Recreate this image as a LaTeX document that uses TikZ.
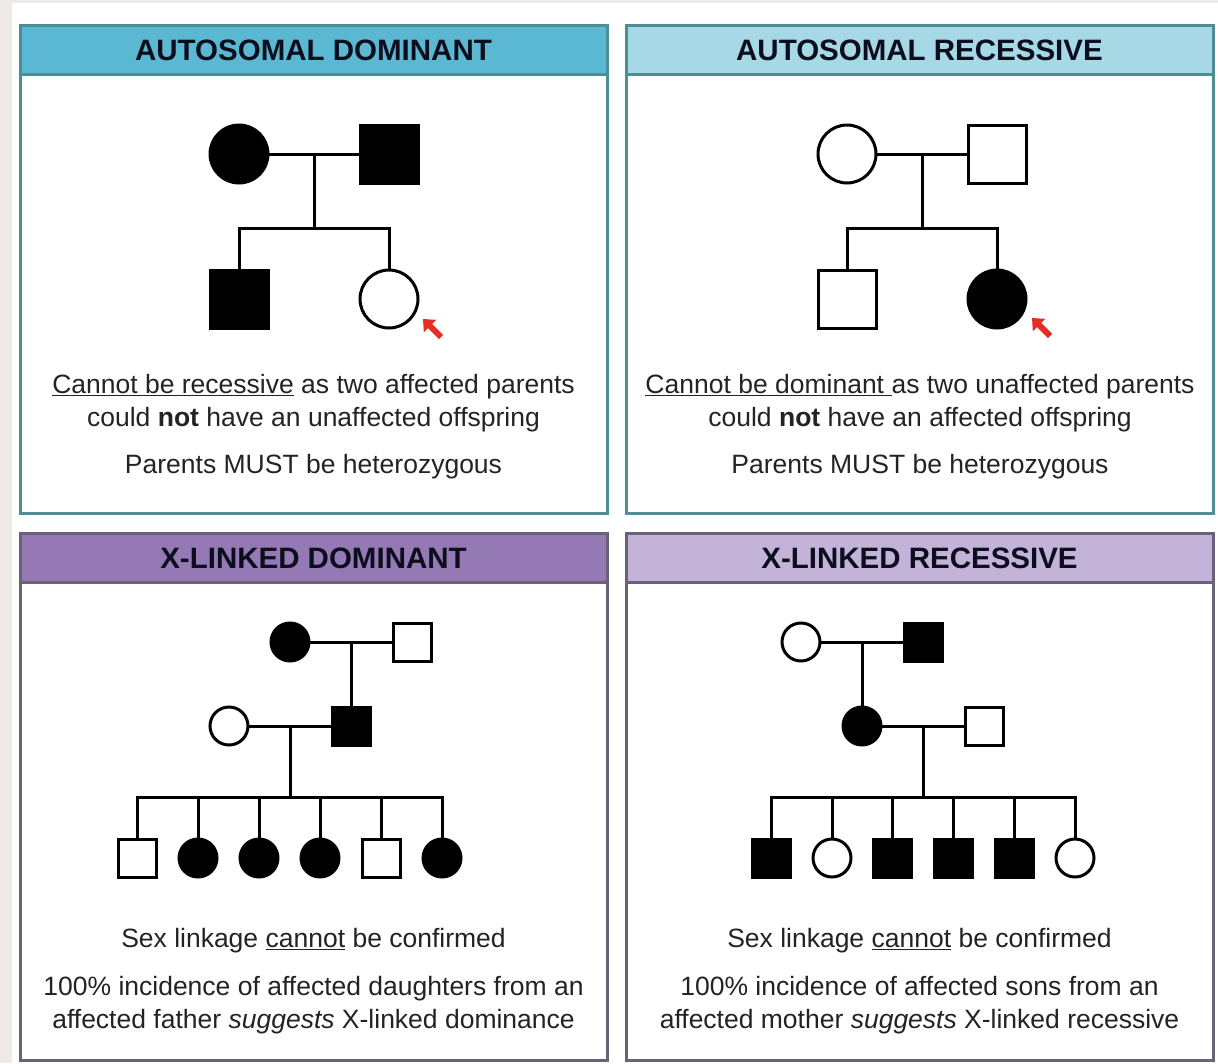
\documentclass[tikz,border=0pt]{standalone}
\usepackage{fontspec}
\setmainfont{Liberation Sans}
\usepackage{tikz}
\usetikzlibrary{positioning}
\usetikzlibrary{arrows.meta}
\usetikzlibrary{calc}
\definecolor{bgbeige}{RGB}{238,235,230}
\definecolor{adhead}{RGB}{90,184,210}
\definecolor{arhead}{RGB}{166,216,230}
\definecolor{xdhead}{RGB}{148,121,181}
\definecolor{xrhead}{RGB}{195,179,217}
\definecolor{autoframe}{RGB}{78,140,150}
\definecolor{xframe}{RGB}{105,98,120}
\definecolor{textgray}{RGB}{35,35,35}
\definecolor{titleink}{RGB}{12,14,30}
\definecolor{pointer}{RGB}{230,45,35}
\tikzstyle{person}=[draw=black,line width=3pt,inner sep=0pt]
\tikzstyle{famline}=[draw,line width=3pt,line cap=rect]
\tikzstyle{header}=[font=\fontsize{29.5}{32}\selectfont\bfseries,text=titleink]
\tikzstyle{note}=[font=\fontsize{26.5}{32.5}\selectfont,text=textgray,align=center]
\tikzstyle{proband}=[draw=pointer,line width=6pt,-{Triangle[length=10pt,width=17pt]}]

\begin{document}
\begin{tikzpicture}[x=1pt,y=-1pt]

 \useasboundingbox (0,0) rectangle (1218,1063);
 \fill[bgbeige] (0,0) rectangle (1218,1063);
 \fill[white] (12,3) rectangle (1218,1063);

 %Panels
 \foreach \x/\y/\h/\hc/\fc/\name/\title in {20/25/488/adhead/autoframe/tad/AUTOSOMAL DOMINANT, 626/25/488/arhead/autoframe/tar/AUTOSOMAL RECESSIVE, 20/533/527/xdhead/xframe/txd/X-LINKED DOMINANT, 626/533/527/xrhead/xframe/txr/X-LINKED RECESSIVE}
 {
   \fill[\hc] (\x,\y) rectangle ++(587,49);
   \draw[\fc, line width=3pt] (\x,\y) rectangle ++(587,\h);
   \draw[\fc, line width=3pt] (\x,\y+49) -- ++(587,0);
   \node[header] (\name) at (\x+293.5,\y+25.5) {\title};
 }

 %Autosomal dominant
  \def\dx{239};
  \def\dy{154};

   \foreach \x/\y/\name/\sh/\f in {0/0/am/circle/black, 150/0/af/rectangle/black, 0/145/as/rectangle/black, 150/145/ad/circle/white}
          \node[person, shape=\sh, fill=\f, minimum size=58pt] (\name) at (\x+\dx, \y+\dy) {};

  \coordinate (amid) at ($(am)!0.5!(af)$);
  \coordinate (asib) at ($(amid)+(0,74)$);
  \foreach \source/ \dest in {am/af, amid/asib}
         \path[famline] (\source) -- (\dest);
  \path[famline] (as |- asib) -- (ad |- asib);
  \foreach \c in {as,ad}
         \path[famline] (\c |- asib) -- (\c);

  \coordinate (atail) at (441,337);
  \coordinate (atip) at (423,319);
  \path[proband] (atail) -- (atip);

 \node[note] (adtxt) at (313.5,403) {\underline{Cannot be recessive} as two affected parents\\could \textbf{not} have an unaffected offspring};
 \node[note] (adpar) at (313.5,467) {Parents MUST be heterozygous};

 %Autosomal recessive
  \def\dx{847};
  \def\dy{154};

   \foreach \x/\y/\name/\sh/\f in {0/0/rm/circle/white, 150/0/rf/rectangle/white, 0/145/rs/rectangle/white, 150/145/rd/circle/black}
          \node[person, shape=\sh, fill=\f, minimum size=58pt] (\name) at (\x+\dx, \y+\dy) {};

  \coordinate (rmid) at ($(rm)!0.5!(rf)$);
  \coordinate (rsib) at ($(rmid)+(0,74)$);
  \foreach \source/ \dest in {rm/rf, rmid/rsib}
         \path[famline] (\source) -- (\dest);
  \path[famline] (rs |- rsib) -- (rd |- rsib);
  \foreach \c in {rs,rd}
         \path[famline] (\c |- rsib) -- (\c);

  \coordinate (rtail) at (1050,336);
  \coordinate (rtip) at (1032,318);
  \path[proband] (rtail) -- (rtip);

 \node[note] (artxt) at (920,403) {\underline{Cannot be dominant\ }as two unaffected parents\\could \textbf{not} have an affected offspring};
 \node[note] (arpar) at (920,467) {Parents MUST be heterozygous};

 %X-linked dominant
  \def\dx{290};
  \def\dy{642};

   \foreach \x/\y/\name/\sh/\f in {0/0/dm/circle/black, 122/0/df/rectangle/white, -61/84/dw/circle/white, 61/84/dh/rectangle/black}
          \node[person, shape=\sh, fill=\f, minimum size=38pt] (\name) at (\x+\dx, \y+\dy) {};

   \foreach \x/\y/\name/\sh/\f in {-153/216/dc1/rectangle/white, -92/216/dc2/circle/black, -31/216/dc3/circle/black, 30/216/dc4/circle/black, 91/216/dc5/rectangle/white, 152/216/dc6/circle/black}
          \node[person, shape=\sh, fill=\f, minimum size=38pt] (\name) at (\x+\dx, \y+\dy) {};

  \coordinate (dmid) at ($(dm)!0.5!(df)$);
  \coordinate (dmid2) at ($(dw)!0.5!(dh)$);
  \coordinate (dsib) at ($(dmid2)+(0,71)$);
  \foreach \source/ \dest in {dm/df, dmid/dh, dw/dh, dmid2/dsib}
         \path[famline] (\source) -- (\dest);
  \path[famline] (dc1 |- dsib) -- (dc6 |- dsib);
  \foreach \c in {dc1,dc2,dc3,dc4,dc5,dc6}
         \path[famline] (\c |- dsib) -- (\c);

 \node[note] (xdsex) at (313.5,941) {Sex linkage \underline{cannot} be confirmed};
 \node[note] (xdinc) at (313.5,1005) {100\% incidence of affected daughters from an\\affected father \textit{suggests} X-linked dominance};

 %X-linked recessive
  \def\dx{801};
  \def\dy{642};

   \foreach \x/\y/\name/\sh/\f in {0/0/xm/circle/white, 122/0/xf/rectangle/black, 61/84/xd/circle/black, 183/84/xh/rectangle/white}
          \node[person, shape=\sh, fill=\f, minimum size=38pt] (\name) at (\x+\dx, \y+\dy) {};

   \foreach \x/\y/\name/\sh/\f in {-30/216/xc1/rectangle/black, 31/216/xc2/circle/white, 91/216/xc3/rectangle/black, 152/216/xc4/rectangle/black, 213/216/xc5/rectangle/black, 274/216/xc6/circle/white}
          \node[person, shape=\sh, fill=\f, minimum size=38pt] (\name) at (\x+\dx, \y+\dy) {};

  \coordinate (xmid) at ($(xm)!0.5!(xf)$);
  \coordinate (xmid2) at ($(xd)!0.5!(xh)$);
  \coordinate (xsib) at ($(xmid2)+(0,71)$);
  \foreach \source/ \dest in {xm/xf, xmid/xd, xd/xh, xmid2/xsib}
         \path[famline] (\source) -- (\dest);
  \path[famline] (xc1 |- xsib) -- (xc6 |- xsib);
  \foreach \c in {xc1,xc2,xc3,xc4,xc5,xc6}
         \path[famline] (\c |- xsib) -- (\c);

 \node[note] (xrsex) at (919.5,941) {Sex linkage \underline{cannot} be confirmed};
 \node[note] (xrinc) at (919.5,1005) {100\% incidence of affected sons from an\\affected mother \textit{suggests} X-linked recessive};

\end{tikzpicture}
\end{document}
